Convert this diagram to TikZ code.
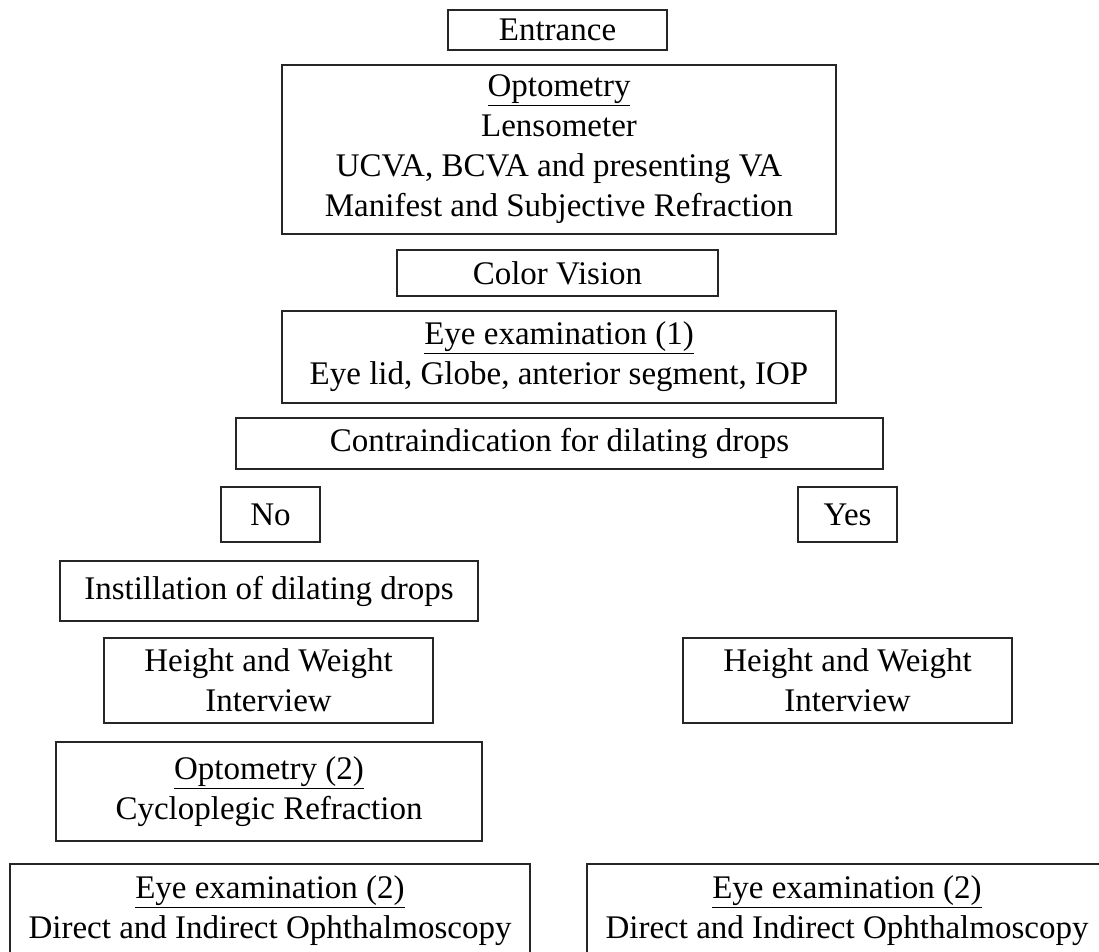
\documentclass[tikz,border=0pt]{standalone}
\usepackage{fontspec}
\setmainfont{Liberation Serif}

\begin{document}
\begin{tikzpicture}[x=1pt,y=-1pt]
    \tikzset{
        stepbox/.style={
            draw=black!85,
            line width=1.3pt,
            align=center,
            inner sep=0pt,
            font=\fontsize{33}{40}\selectfont
        },
        boxsize/.style 2 args={
            minimum width=#1pt,
            minimum height=#2pt
        }
    }

    \useasboundingbox (0,0) rectangle (1099,951);
    \clip (0,0) rectangle (1099,951);

    \node[stepbox,boxsize={219}{40}] (entrance) at (557.5,30) {Entrance};
    \node[stepbox,boxsize={554}{169}] (opto) at (559,149.5)
        {\underline{Optometry}\\Lensometer\\UCVA, BCVA and presenting VA\\Manifest and Subjective Refraction};
    \node[stepbox,boxsize={321}{46}] (color) at (557.5,273) {Color Vision};
    \node[stepbox,boxsize={554}{92}] (exam1) at (559,357)
        {\underline{Eye examination (1)}\\Eye lid, Globe, anterior segment, IOP};
    \node[stepbox,boxsize={647}{51}] (contra) at (559.5,443.5) {Contraindication for dilating drops};
    \node[stepbox,boxsize={99}{55}] (no) at (270.5,514.5) {No};
    \node[stepbox,boxsize={99}{55}] (yes) at (847.5,514.5) {Yes};

    % left branch
    \node[stepbox,boxsize={418}{60}] (instill) at (269,591) {Instillation of dilating drops};
    \node[stepbox,boxsize={329}{85}] (hwno) at (268.5,680.5) {Height and Weight\\Interview};
    \node[stepbox,boxsize={426}{99}] (opto2) at (269,791.5)
        {\underline{Optometry (2)}\\Cycloplegic Refraction};
    \node[stepbox,boxsize={520}{94}] (exam2no) at (270,911)
        {\underline{Eye examination (2)}\\Direct and Indirect Ophthalmoscopy};

    % right branch
    \node[stepbox,boxsize={329}{85}] (hwyes) at (847.5,680.5) {Height and Weight\\Interview};
    \node[stepbox,boxsize={520}{94}] (exam2yes) at (847,911)
        {\underline{Eye examination (2)}\\Direct and Indirect Ophthalmoscopy};
\end{tikzpicture}
\end{document}
